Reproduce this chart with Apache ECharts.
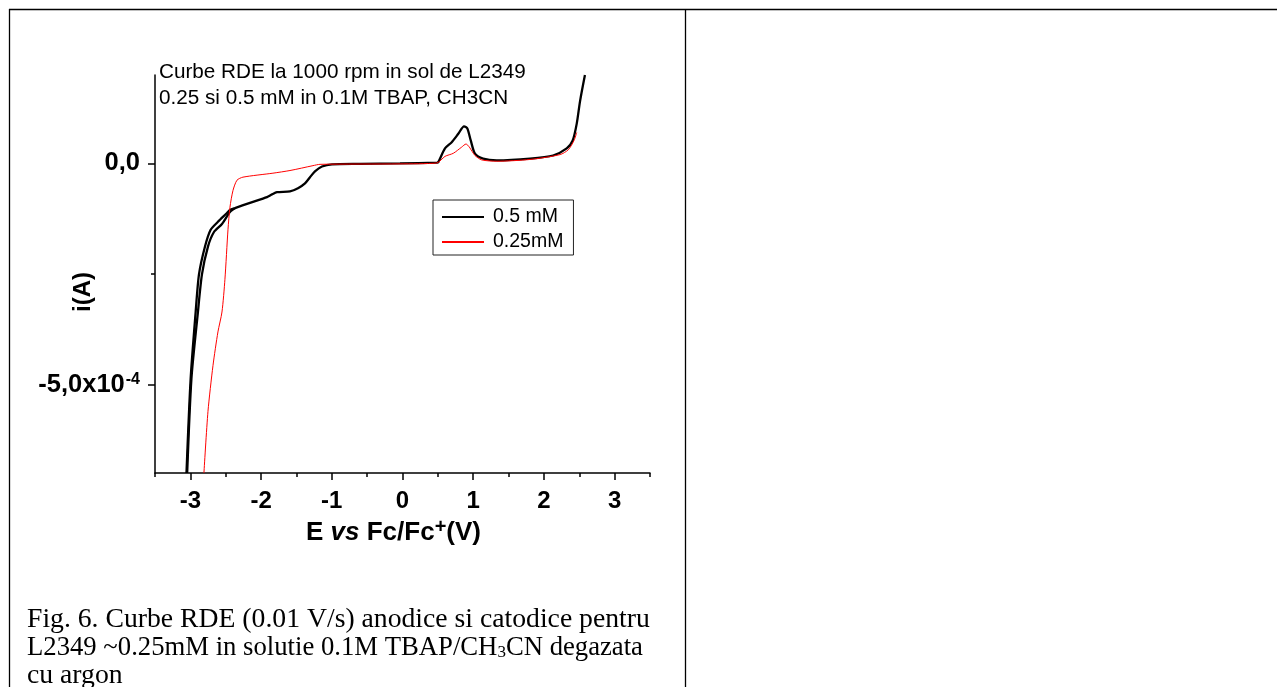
<!DOCTYPE html>
<html>
<head>
<meta charset="utf-8">
<script src="https://cdn.jsdelivr.net/npm/echarts@6/dist/echarts.min.js"></script>
<style>
  html, body { margin: 0; padding: 0; background: #ffffff; }
  #chart { width: 1277px; height: 687px; }
</style>
</head>
<body>
<div id="chart"></div>
<script>
// RDE curves for L2349 in 0.1M TBAP / CH3CN, potential E (V vs Fc/Fc+) and current i (A)

// 0.5 mM, full scan
const E_05 = [-3.055, -2.996, -2.925, -2.878, -2.793, -2.713, -2.610, -2.482, -2.440, -2.369,
              -2.157, -1.916, -1.846, -1.775, -1.591, -1.478, -1.379, -1.308, -1.238, -1.139,
              -0.997, -0.601, -0.035, 0.488, 0.506, 0.601, 0.696, 0.789, 0.870, 0.917,
              0.965, 1.025, 1.139, 1.332, 1.803, 2.129, 2.322, 2.407, 2.464, 2.511, 2.580];
const I_05 = [-7.00e-4, -4.87e-4, -3.36e-4, -2.51e-4, -1.88e-4, -1.50e-4, -1.32e-4, -1.12e-4, -1.05e-4, -1.01e-4,
              -0.89e-4, -0.76e-4, -0.70e-4, -0.65e-4, -0.63e-4, -0.56e-4, -0.45e-4, -0.31e-4, -0.18e-4, -0.07e-4,
              -0.02e-4, -0.01e-4, 0.00e-4, 0.02e-4, 0.03e-4, 0.34e-4, 0.48e-4, 0.67e-4, 0.84e-4, 0.79e-4,
              0.52e-4, 0.22e-4, 0.11e-4, 0.07e-4, 0.11e-4, 0.18e-4, 0.34e-4, 0.52e-4, 0.90e-4, 1.41e-4, 2.00e-4];

// 0.5 mM, return branch of the cathodic wave
const E_05_ret = [-3.045, -2.985, -2.893, -2.836, -2.751, -2.666, -2.553, -2.440, -2.369];
const I_05_ret = [-7.00e-4, -4.87e-4, -3.36e-4, -2.51e-4, -1.88e-4, -1.55e-4, -1.37e-4, -1.10e-4, -1.01e-4];

// 0.25 mM
const E_025 = [-2.808, -2.751, -2.680, -2.610, -2.553, -2.511, -2.468, -2.440, -2.397, -2.341,
               -2.256, -1.832, -1.591, -1.266, -1.167, -0.035, 0.484, 0.601, 0.719, 0.837,
               0.898, 0.945, 1.025, 1.120, 1.332, 1.803, 2.228, 2.345, 2.426, 2.464];
const I_025 = [-7.00e-4, -5.61e-4, -4.57e-4, -3.81e-4, -3.36e-4, -2.62e-4, -1.50e-4, -0.99e-4, -0.61e-4, -0.38e-4,
               -0.31e-4, -0.22e-4, -0.16e-4, -0.05e-4, -0.02e-4, -0.01e-4, 0.01e-4, 0.16e-4, 0.23e-4, 0.37e-4,
               0.44e-4, 0.37e-4, 0.18e-4, 0.08e-4, 0.05e-4, 0.09e-4, 0.20e-4, 0.31e-4, 0.52e-4, 0.70e-4];

// axis ticks
const xMajorTicks = [-3, -2, -1, 0, 1, 2, 3];
const xMinorTicks = [-3.5, -2.5, -1.5, -0.5, 0.5, 1.5, 2.5, 3.5];
const yMajorTicks = [-5e-4, 0];
const yMinorTicks = [-2.5e-4];

const legendNames = ['0.5 mM', '0.25mM'];

const SANS = '"Liberation Sans", Arial, sans-serif';
const SERIF = '"Liberation Serif", "Times New Roman", serif';

const pairs = (xs, ys) => xs.map((x, k) => [x, ys[k]]);

function yLabel(v) {
  if (v === 0) return '{m|0,0}';
  const exp = Math.floor(Math.log10(Math.abs(v)) + 1e-9);
  const mant = v / Math.pow(10, exp);
  return '{m|' + mant.toFixed(1).replace('.', ',') + 'x10}{s|' + exp + '}';
}

const chart = echarts.init(document.getElementById('chart'), null, { renderer: 'canvas' });

const axisLineStyle = { color: '#000', width: 1.5 };

chart.setOption({
  animation: false,
  backgroundColor: '#ffffff',
  grid: { left: 155, top: 75, right: 627, bottom: 214, containLabel: false },
  legend: {
    data: legendNames,
    orient: 'vertical',
    left: 433,
    top: 200,
    itemWidth: 42,
    itemHeight: 14,
    itemGap: 5,
    padding: [7, 10, 3, 8],
    borderColor: '#222',
    borderWidth: 1,
    backgroundColor: '#fff',
    itemStyle: { opacity: 0 },
    textStyle: { fontFamily: SANS, fontSize: 19.5, color: '#000', padding: [0, 0, 0, 4] }
  },
  xAxis: [
    {
      type: 'value',
      min: -3.5,
      max: 3.5,
      position: 'bottom',
      splitLine: { show: false },
      axisLine: { show: true, onZero: false, lineStyle: axisLineStyle },
      axisTick: { show: true, customValues: xMajorTicks, length: 7, lineStyle: axisLineStyle },
      axisLabel: {
        customValues: xMajorTicks,
        margin: 16,
        fontFamily: SANS, fontSize: 24, fontWeight: 'bold', color: '#000',
        formatter: v => String(v)
      },
      name: 'E {i|vs} Fc/Fc{s|+}(V)',
      nameLocation: 'middle',
      nameGap: 38,
      nameTextStyle: {
        fontFamily: SANS, fontSize: 26, fontWeight: 'bold', color: '#000',
        padding: [0, 18, 0, 0],
        rich: {
          i: { fontFamily: SANS, fontSize: 26, fontWeight: 'bold', fontStyle: 'italic', color: '#000' },
          s: { fontFamily: SANS, fontSize: 20, fontWeight: 'bold', color: '#000', verticalAlign: 'top', padding: [0, 0, 10, 0] }
        }
      }
    },
    {
      type: 'value',
      min: -3.5,
      max: 3.5,
      position: 'bottom',
      offset: 0,
      splitLine: { show: false },
      axisLine: { show: false, onZero: false },
      axisTick: { show: true, customValues: xMinorTicks, length: 4, lineStyle: axisLineStyle },
      axisLabel: { show: false }
    }
  ],
  yAxis: [
    {
      type: 'value',
      min: -7e-4,
      max: 2e-4,
      position: 'left',
      splitLine: { show: false },
      axisLine: { show: true, onZero: false, lineStyle: axisLineStyle },
      axisTick: { show: true, customValues: yMajorTicks, length: 7, lineStyle: axisLineStyle },
      axisLabel: {
        customValues: yMajorTicks,
        margin: 15,
        formatter: yLabel,
        rich: {
          m: { fontFamily: SANS, fontSize: 25.5, fontWeight: 'bold', color: '#000' },
          s: { fontFamily: SANS, fontSize: 16, fontWeight: 'bold', color: '#000', verticalAlign: 'top', padding: [0, 0, 8, 1] }
        }
      }
    },
    {
      type: 'value',
      min: -7e-4,
      max: 2e-4,
      position: 'left',
      offset: 0,
      splitLine: { show: false },
      axisLine: { show: false, onZero: false },
      axisTick: { show: true, customValues: yMinorTicks, length: 4, lineStyle: axisLineStyle },
      axisLabel: { show: false }
    }
  ],
  series: [
    {
      name: '0.5 mM',
      type: 'line',
      xAxisIndex: 0, yAxisIndex: 0,
      data: pairs(E_05, I_05),
      symbol: 'none',
      smooth: 0.25,
      lineStyle: { color: '#000', width: 2.3 },
      itemStyle: { color: '#000' },
      z: 2
    },
    {
      name: '0.5 mM return',
      type: 'line',
      xAxisIndex: 0, yAxisIndex: 0,
      data: pairs(E_05_ret, I_05_ret),
      symbol: 'none',
      smooth: 0.25,
      lineStyle: { color: '#000', width: 2.3 },
      itemStyle: { color: '#000' },
      z: 2
    },
    {
      name: '0.25mM',
      type: 'line',
      xAxisIndex: 0, yAxisIndex: 0,
      data: pairs(E_025, I_025),
      symbol: 'none',
      smooth: 0.25,
      lineStyle: { color: '#ff0000', width: 1 },
      itemStyle: { color: '#ff0000' },
      z: 3
    }
  ],
  graphic: [
    // table frame
    { type: 'line', shape: { x1: 9, y1: 9.5, x2: 1277, y2: 9.5 }, style: { stroke: '#000', lineWidth: 1.3 } },
    { type: 'line', shape: { x1: 9.5, y1: 9, x2: 9.5, y2: 687 }, style: { stroke: '#000', lineWidth: 1.3 } },
    { type: 'line', shape: { x1: 685.5, y1: 9, x2: 685.5, y2: 687 }, style: { stroke: '#000', lineWidth: 1.3 } },
    // annotation
    { type: 'text', x: 159, y: 72.5, style: { text: 'Curbe RDE la 1000 rpm in sol de L2349', font: '20.7px ' + SANS, fill: '#000', align: 'left', verticalAlign: 'middle' } },
    { type: 'text', x: 159, y: 98.5, style: { text: '0.25 si 0.5 mM in 0.1M TBAP, CH3CN', font: '20.7px ' + SANS, fill: '#000', align: 'left', verticalAlign: 'middle' } },
    // y-axis title
    { type: 'text', x: 83, y: 292, rotation: Math.PI / 2, style: { text: 'i(A)', font: 'bold 24px ' + SANS, fill: '#000', align: 'center', verticalAlign: 'middle' } },
    // caption
    { type: 'text', x: 27, y: 620, style: { text: 'Fig. 6. Curbe RDE (0.01 V/s) anodice si catodice pentru', font: '27.7px ' + SERIF, fill: '#000', align: 'left', verticalAlign: 'middle' } },
    { type: 'text', x: 27, y: 648, style: {
        text: 'L2349 ~0.25mM in solutie 0.1M TBAP/CH{sub|3}CN degazata',
        font: '26.7px ' + SERIF, fill: '#000', align: 'left', verticalAlign: 'middle',
        rich: { sub: { font: '17px ' + SERIF, fill: '#000', verticalAlign: 'bottom', padding: [6, 0, 0, 0] } }
      } },
    { type: 'text', x: 27, y: 676, style: { text: 'cu argon', font: '27.7px ' + SERIF, fill: '#000', align: 'left', verticalAlign: 'middle' } }
  ]
});
</script>
</body>
</html>
